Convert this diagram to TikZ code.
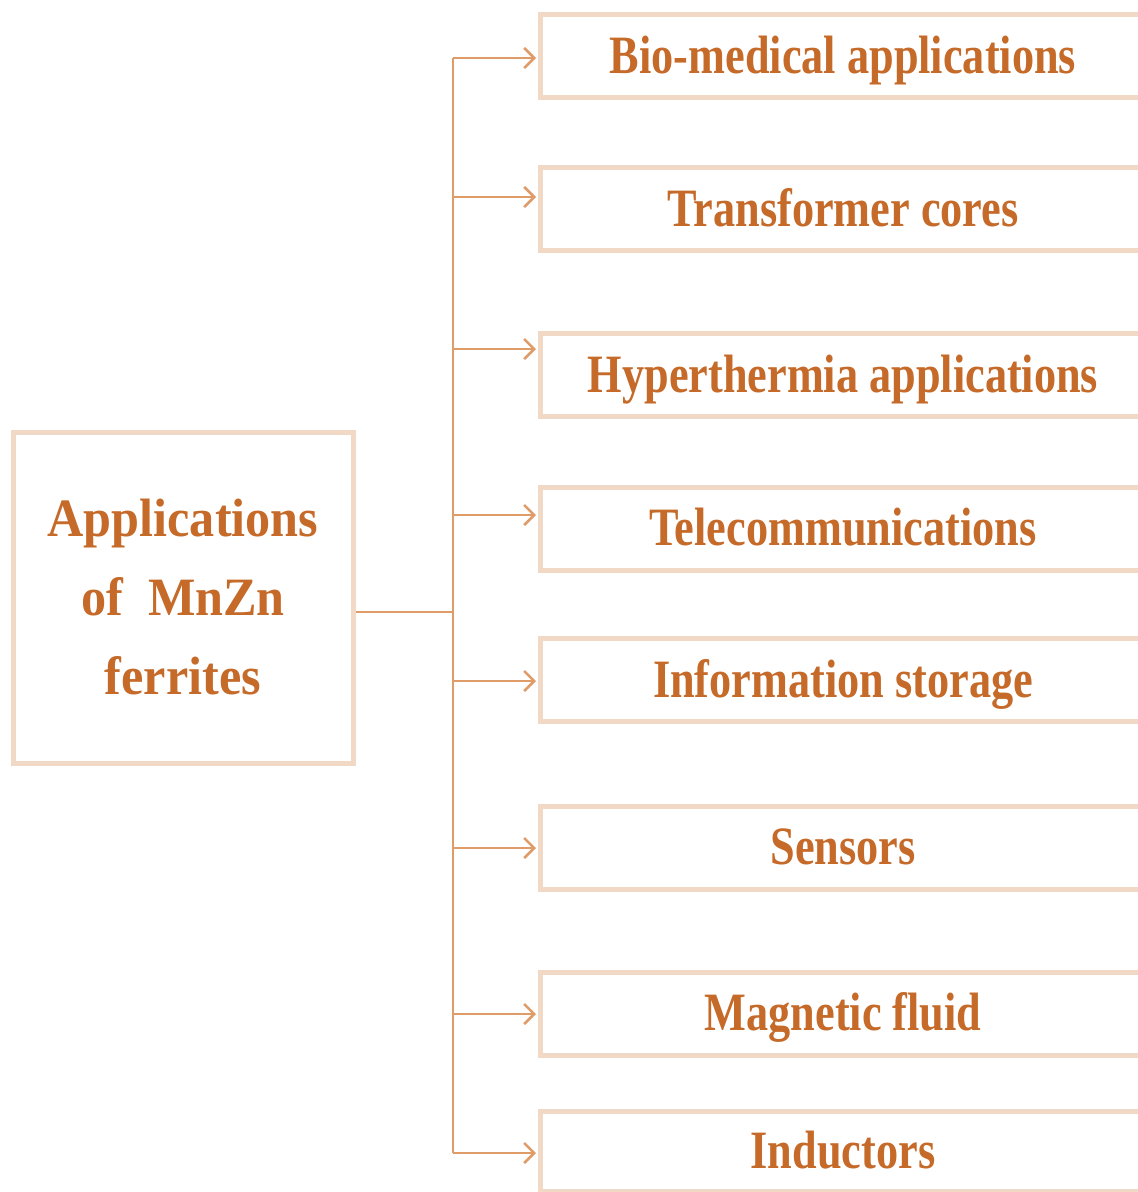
\documentclass[tikz,border=0pt]{standalone}
\usepackage{fontspec}
\usetikzlibrary{arrows.meta}
\newfontfamily\rfont[FakeStretch=0.82]{Liberation Serif}
\newfontfamily\lfont[FakeStretch=0.93]{Liberation Serif}
\definecolor{txtc}{HTML}{C56A28}
\definecolor{brdc}{HTML}{F2D9C6}
\definecolor{linc}{HTML}{E09C68}
\tikzset{
  appbox/.style={draw=brdc, line width=5pt, rectangle, minimum width=605pt, minimum height=83pt,
    text=txtc, font=\rfont\bfseries\fontsize{54}{60}\selectfont, text height=34pt, text depth=0pt, inner sep=0pt},
  mainbox/.style={draw=brdc, line width=5pt, rectangle, minimum width=340pt, minimum height=331pt,
    text=txtc, font=\lfont\bfseries\fontsize{54}{79}\selectfont, align=center, inner sep=0pt},
  conn/.style={draw=linc, line width=2.3pt},
  arr/.style={conn, -{Straight Barb[length=10pt,width=20pt,line width=2.6pt]}}
}
\begin{document}
\begin{tikzpicture}[x=1pt,y=-1pt]
\useasboundingbox (0,0) rectangle (1138,1192);
\clip (0,0) rectangle (1138,1192);
\node[mainbox] (L) at (183,597.5) {Applications\\of\ \ MnZn\\ferrites};
\node[appbox] (b1) at (843,56) {Bio-medical applications};
\node[appbox] (b2) at (843,209) {Transformer cores};
\node[appbox] (b3) at (843,375) {Hyperthermia applications};
\node[appbox] (b4) at (843,528.5) {Telecommunications};
\node[appbox] (b5) at (843,680) {Information storage};
\node[appbox] (b6) at (843,847.5) {Sensors};
\node[appbox] (b7) at (843,1013.5) {Magnetic fluid};
\node[appbox, minimum height=80pt] (b8) at (843,1151) {Inductors};
\coordinate (t1) at (453,58);
\coordinate (t2) at (453,197);
\coordinate (t3) at (453,349);
\coordinate (t4) at (453,515);
\coordinate (t5) at (453,681);
\coordinate (t6) at (453,848);
\coordinate (t7) at (453,1014);
\coordinate (t8) at (453,1153);
\coordinate (hj) at (453,612);
\draw[conn] (t1) -- (t8);
\draw[conn] (hj -| L.east) -- (hj);
\foreach \i in {1,...,8} {
  \draw[arr] (t\i) -- ([xshift=-2pt]t\i -| b\i.west);
}
\end{tikzpicture}
\end{document}
